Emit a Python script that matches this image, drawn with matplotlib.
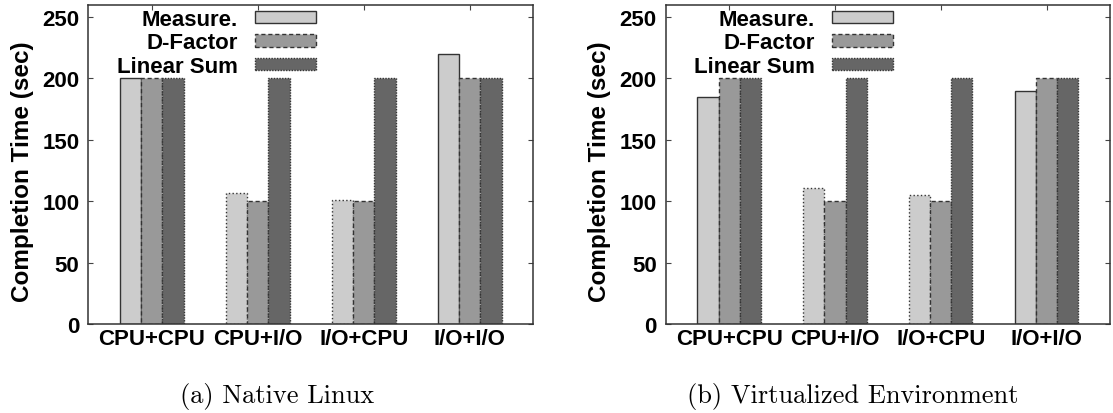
import numpy as np
import matplotlib
matplotlib.use("Agg")
import matplotlib.pyplot as plt
from matplotlib.patches import Patch

plt.rcParams['font.family'] = ['Liberation Sans', 'DejaVu Sans']
plt.rcParams['font.weight'] = 'bold'

categories = ["CPU+CPU", "CPU+I/O", "I/O+CPU", "I/O+I/O"]
series_names = ["Measure.", "D-Factor", "Linear Sum"]

native_measure = [200, 107, 101, 220]
native_dfactor = [200, 100, 100, 200]
native_linear = [200, 200, 200, 200]

virt_measure = [185, 111, 105, 190]
virt_dfactor = [200, 100, 100, 200]
virt_linear = [200, 200, 200, 200]

colors = ["#cccccc", "#999999", "#666666"]
edge = "#333333"
# gnuplot border styles differ bar by bar
measure_ls = ['-', ':', ':', '-']
dash_ls = (0, (3, 2))
dot_ls = (0, (1, 1))

W, H = 1113, 414
BOT, TOP = 325.0, 5.7


def draw_panel(ax, data):
    x = np.arange(len(categories))
    w = 0.2
    for i, vals in enumerate(data):
        bars = ax.bar(x + (i - 1) * w, vals, width=w, color=colors[i],
                      edgecolor=edge, linewidth=1.0)
        for j, b in enumerate(bars):
            if i == 0:
                b.set_linestyle(measure_ls[j])
            elif i == 1:
                b.set_linestyle(dash_ls)
            else:
                b.set_linestyle(dot_ls)
    handles = [Patch(facecolor=colors[0], edgecolor=edge, linewidth=1.0, linestyle='-'),
               Patch(facecolor=colors[1], edgecolor=edge, linewidth=1.0, linestyle=dash_ls),
               Patch(facecolor=colors[2], edgecolor=edge, linewidth=1.0, linestyle=dot_ls)]
    ax.set_xlim(-0.6, 3.6)
    ax.set_ylim(0, 260)
    ax.set_yticks([0, 50, 100, 150, 200, 250])
    ax.set_xticks(x)
    ax.set_xticklabels(categories)
    ax.tick_params(axis='y', direction='in', length=3.5, right=True, labelsize=16, pad=6.5,
                   color='#444444')
    ax.tick_params(axis='x', direction='in', length=3.5, bottom=False, top=True,
                   labelsize=16, pad=3, color='#444444')
    for lab in ax.get_xticklabels() + ax.get_yticklabels():
        lab.set_fontweight('bold')
    for s in ax.spines.values():
        s.set_linewidth(1.1)
        s.set_color('#333333')
    ax.set_ylabel("Completion Time (sec)", fontsize=17.5, fontweight='bold')
    ax.yaxis.set_label_coords(-0.123, 0.48)
    ax.legend(handles, series_names, loc='upper right', bbox_to_anchor=(0.512, 0.987),
              markerfirst=False, frameon=False, borderpad=0, borderaxespad=0,
              handlelength=2.75, handleheight=0.5, handletextpad=0.77, labelspacing=0.11,
              prop={'weight': 'bold', 'size': 16})


fig = plt.figure(figsize=(W / 100, H / 100), dpi=100)
ax1 = fig.add_axes([88.3 / W, 1 - BOT / H, (533.3 - 88.3) / W, (BOT - TOP) / H])
ax2 = fig.add_axes([665.7 / W, 1 - BOT / H, (1110 - 665.7) / W, (BOT - TOP) / H])

draw_panel(ax1, [native_measure, native_dfactor, native_linear])
draw_panel(ax2, [virt_measure, virt_dfactor, virt_linear])

fig.text(277.5 / W, 1 - 397 / H, "(a) Native Linux", ha='center', va='center',
         fontfamily='cmr10', fontsize=19, fontweight='normal')
fig.text(853 / W, 1 - 397 / H, "(b) Virtualized Environment", ha='center', va='center',
         fontfamily='cmr10', fontsize=19, fontweight='normal')

fig.savefig("out.png", dpi=100)
